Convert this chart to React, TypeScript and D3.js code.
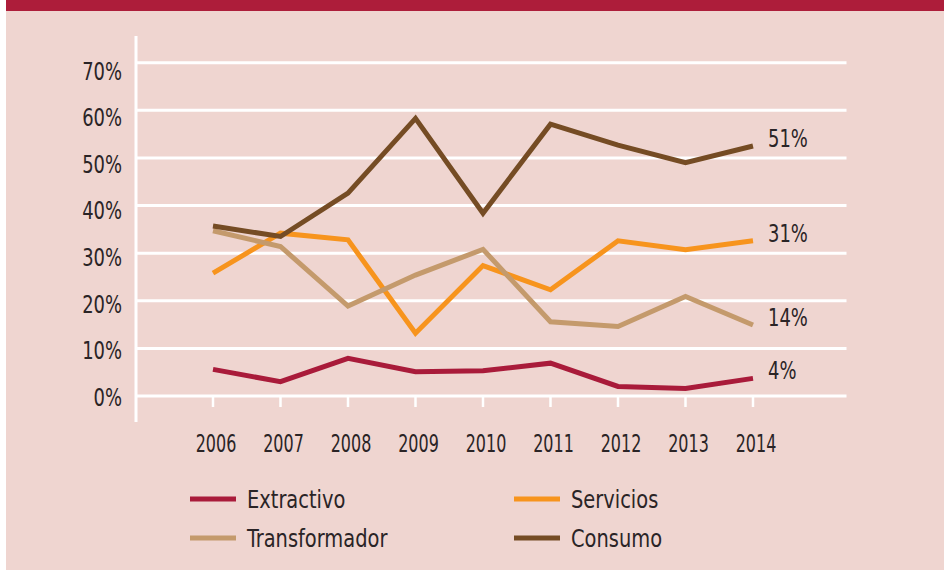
import React from "react";
import * as d3 from "d3";

const years = ["2006", "2007", "2008", "2009", "2010", "2011", "2012", "2013", "2014"];
const extractivo = [5.6, 3.0, 7.9, 5.1, 5.3, 6.9, 2.0, 1.6, 3.7];
const servicios = [25.8, 34.2, 32.8, 13.2, 27.4, 22.3, 32.6, 30.7, 32.6];
const transformador = [34.7, 31.4, 18.9, 25.4, 30.8, 15.6, 14.6, 20.9, 14.9];
const consumo = [35.7, 33.5, 42.6, 58.3, 38.4, 57.1, 52.7, 49.0, 52.5];
const yTicks = [0, 10, 20, 30, 40, 50, 60, 70];
const yTickLabels = ["0%", "10%", "20%", "30%", "40%", "50%", "60%", "70%"];
const seriesNames = ["Extractivo", "Servicios", "Transformador", "Consumo"];
const endLabels = ["4%", "31%", "14%", "51%"];

const COLORS: Record<string, string> = {
  Extractivo: "#a91b3a",
  Servicios: "#f7941d",
  Transformador: "#c49a6c",
  Consumo: "#754c24",
};

const FONT = "'Liberation Sans Narrow', 'DejaVu Sans Condensed', sans-serif";
const TEXT = "#2a2426";

function Txt(props: {
  x: number;
  y: number;
  sx: number;
  anchor?: string;
  dy?: string;
  children: React.ReactNode;
}) {
  return (
    <text
      transform={`translate(${props.x},${props.y}) scale(${props.sx},1)`}
      textAnchor={props.anchor || "start"}
      dy={props.dy}
      fontFamily={FONT}
      fontSize={24}
      fill={TEXT}
    >
      {props.children}
    </text>
  );
}

export default function App() {
  React.useEffect(() => {
    document.body.style.margin = "0";
  }, []);

  const W = 944;
  const H = 570;
  const x = d3.scalePoint<string>().domain(years).range([213, 753]);
  const y = d3.scaleLinear().domain([0, 70]).range([396, 62.7]);
  const yLab = d3.scaleLinear().domain([0, 70]).range([397, 71]);
  const line = d3
    .line<number>()
    .x((_, i) => x(years[i]) as number)
    .y((d) => y(d));

  const data: Record<string, number[]> = {
    Extractivo: extractivo,
    Servicios: servicios,
    Transformador: transformador,
    Consumo: consumo,
  };

  const legendPos = [
    { col: 0, row: 0 },
    { col: 1, row: 0 },
    { col: 0, row: 1 },
    { col: 1, row: 1 },
  ];
  const legendX = [190, 514];
  const legendY = [499, 538];

  return (
    <svg
      width={W}
      height={H}
      style={{ position: "absolute", left: 0, top: 0, display: "block" }}
    >
      <rect x={0} y={0} width={W} height={H} fill="#ffffff" />
      <rect x={6} y={0} width={W - 6} height={H} fill="#efd5d0" />
      <rect x={6} y={0} width={W - 6} height={11} fill="#ad1d3a" />

      {yTicks.map((t) => (
        <line
          key={"g" + t}
          x1={136}
          x2={846.5}
          y1={y(t)}
          y2={y(t)}
          stroke="#ffffff"
          strokeWidth={3}
        />
      ))}
      <line x1={136} x2={136} y1={36} y2={422} stroke="#ffffff" strokeWidth={3} />
      {years.map((yr) => (
        <line
          key={"t" + yr}
          x1={x(yr)}
          x2={x(yr)}
          y1={396}
          y2={407}
          stroke="#ffffff"
          strokeWidth={2.5}
        />
      ))}

      {yTicks.map((t, i) => (
        <Txt key={"yl" + t} x={122} y={yLab(t)} dy="0.36em" anchor="end" sx={0.83}>
          {yTickLabels[i]}
        </Txt>
      ))}

      {years.map((yr) => (
        <Txt key={"xl" + yr} x={(x(yr) as number) + 3} y={452} anchor="middle" sx={0.74}>
          {yr}
        </Txt>
      ))}

      {seriesNames.map((name) => (
        <path
          key={name}
          d={line(data[name]) || ""}
          fill="none"
          stroke={COLORS[name]}
          strokeWidth={5}
          strokeLinejoin="miter"
        />
      ))}

      {seriesNames.map((name, i) => {
        const vals = data[name];
        return (
          <Txt key={"e" + name} x={768} y={y(vals[vals.length - 1]) + 1} sx={0.83}>
            {endLabels[i]}
          </Txt>
        );
      })}

      {seriesNames.map((name, i) => {
        const p = legendPos[i];
        const lx = legendX[p.col];
        const ly = legendY[p.row];
        return (
          <g key={"lg" + name}>
            <line
              x1={lx}
              x2={lx + 46}
              y1={ly}
              y2={ly}
              stroke={COLORS[name]}
              strokeWidth={5}
            />
            <Txt x={lx + 57} y={ly + 8.5} sx={0.9}>
              {name}
            </Txt>
          </g>
        );
      })}
    </svg>
  );
}
